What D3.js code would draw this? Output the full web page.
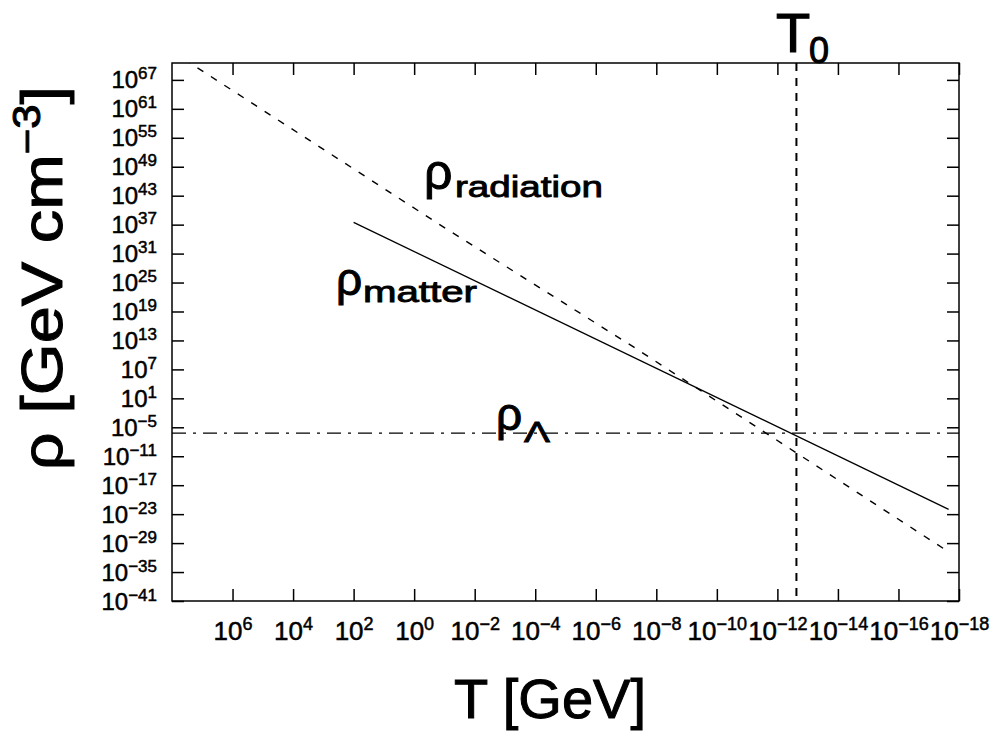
<!DOCTYPE html>
<html><head><meta charset="utf-8">
<script src="https://cdn.jsdelivr.net/npm/d3@7"></script>
<style>body{margin:0;background:#fff}text{font-family:"Liberation Sans",Arial,sans-serif;fill:#000;stroke:#000}</style>
</head><body>
<svg id="c" width="990" height="731"></svg>
<script>
// ---- data ----
const xTickExps = [6, 4, 2, 0, -2, -4, -6, -8, -10, -12, -14, -16, -18];
const yTickExps = [67, 61, 55, 49, 43, 37, 31, 25, 19, 13, 7, 1, -5, -11, -17, -23, -29, -35, -41];
const radiationT   = [4e7, 1.35e-1, 5.5e-8, 2.95e-18];
const radiationRho = [2e71, 8e36, 4e11, 5e-31];
const matterT   = [1e2, 2.2e-18];
const matterRho = [3e37, 1e-22];
const lambdaT   = [1e8, 1e-18];
const lambdaRho = [6e-7, 6e-7];
const T0 = 2.35e-13;

// ---- layout ----
const svg = d3.select("#c");
const M = {l:172, r:959, t:63, b:601};
const x = d3.scaleLog().domain([1e8, 1e-18]).range([M.l, M.r]);
const y = d3.scaleLog().domain([1e-41, Math.pow(10, 70.5)]).range([M.b, M.t]);
const fmtExp = e => (e < 0 ? "\u2212" + (-e) : String(e));

svg.append("rect").attr("width",990).attr("height",731).attr("fill","#fff");

svg.append("clipPath").attr("id","pa").append("rect")
  .attr("x",M.l).attr("y",M.t).attr("width",M.r-M.l).attr("height",M.b-M.t);

// axes
const xTicks = xTickExps.map(e => Math.pow(10, e));
const yTicks = yTickExps.map(e => Math.pow(10, e));

function styleAxis(g){
  g.select(".domain").remove();
  g.selectAll(".tick line").attr("stroke","#000").attr("stroke-width",1.5);
  g.selectAll(".tick text").remove();
}
const gb = svg.append("g").attr("transform",`translate(0,${M.b})`)
  .call(d3.axisBottom(x).tickValues(xTicks).tickSizeInner(-12).tickSizeOuter(0)).call(styleAxis);
gb.selectAll(".tick").each(function(d,i){
  const t = d3.select(this).append("text").attr("text-anchor","middle").attr("y",39)
    .attr("font-size",26).attr("stroke-width",0.5);
  t.append("tspan").text("10");
  t.append("tspan").attr("dy",-10).attr("font-size",18).text(fmtExp(xTickExps[i]));
});
svg.append("g").attr("transform",`translate(0,${M.t})`)
  .call(d3.axisTop(x).tickValues(xTicks).tickSizeInner(-12).tickSizeOuter(0)).call(styleAxis);
const gl = svg.append("g").attr("transform",`translate(${M.l},0)`)
  .call(d3.axisLeft(y).tickValues(yTicks).tickSizeInner(-12).tickSizeOuter(0)).call(styleAxis);
gl.selectAll(".tick").each(function(d,i){
  const t = d3.select(this).append("text").attr("text-anchor","end").attr("x",-15).attr("y",8)
    .attr("font-size",24).attr("stroke-width",0.5);
  t.append("tspan").text("10");
  t.append("tspan").attr("dy",-9).attr("font-size",17).text(fmtExp(yTickExps[i]));
});
svg.append("g").attr("transform",`translate(${M.r},0)`)
  .call(d3.axisRight(y).tickValues(yTicks).tickSizeInner(-12).tickSizeOuter(0)).call(styleAxis);

// frame
svg.append("rect").attr("x",M.l).attr("y",M.t).attr("width",M.r-M.l).attr("height",M.b-M.t)
  .attr("fill","none").attr("stroke","#000").attr("stroke-width",1.5);

// lines
const line = d3.line().x(d => x(d[0])).y(d => y(d[1]));
const plot = svg.append("g").attr("clip-path","url(#pa)");
plot.append("path").datum(d3.zip(radiationT, radiationRho)).attr("d",line)
  .attr("fill","none").attr("stroke","#000").attr("stroke-width",1.4).attr("stroke-dasharray","7,9");
plot.append("path").datum(d3.zip(matterT, matterRho)).attr("d",line)
  .attr("fill","none").attr("stroke","#000").attr("stroke-width",1.3);
plot.append("path").datum(d3.zip(lambdaT, lambdaRho)).attr("d",line)
  .attr("fill","none").attr("stroke","#000").attr("stroke-width",1.2).attr("stroke-dasharray","14,7,3,7");
plot.append("line").attr("x1",x(T0)).attr("x2",x(T0)).attr("y1",M.t).attr("y2",M.b)
  .attr("stroke","#000").attr("stroke-width",2).attr("stroke-dasharray","8,7");

// labels
function rhoLabel(xr, yr, fsR, sub, xs, ys, fsS, len){
  svg.append("text").attr("x",xr).attr("y",yr).attr("font-size",fsR).attr("stroke-width",1).text("\u03C1");
  const t = svg.append("text").attr("x",xs).attr("y",ys).attr("font-size",fsS).attr("stroke-width",0.9).text(sub);
  if (len) t.attr("textLength",len).attr("lengthAdjust","spacingAndGlyphs");
}
rhoLabel(424, 189, 50, "radiation", 455, 197, 30, 148);
rhoLabel(336, 295, 46, "matter", 363, 302, 30, 114);
rhoLabel(496, 430, 46, "\u039B", 524, 442, 30, 26);

// T0
svg.append("text").attr("x",776).attr("y",52).attr("font-size",56).attr("stroke-width",1.2).text("T");
svg.append("text").attr("x",809).attr("y",63).attr("font-size",36).attr("stroke-width",1).text("0");

// axis titles
svg.append("text").attr("x",550).attr("y",718).attr("text-anchor","middle").attr("font-size",56)
  .attr("stroke-width",1).text("T [GeV]");
const yt = svg.append("text").attr("text-anchor","middle").attr("font-size",58).attr("stroke-width",1)
  .attr("transform","translate(62,278) rotate(-90) scale(1.15,1)");
yt.append("tspan").text("\u03C1 [GeV cm");
yt.append("tspan").attr("dy",-22).attr("font-size",38).text("\u22123");
yt.append("tspan").attr("dy",22).text("]");
</script>
</body></html>
